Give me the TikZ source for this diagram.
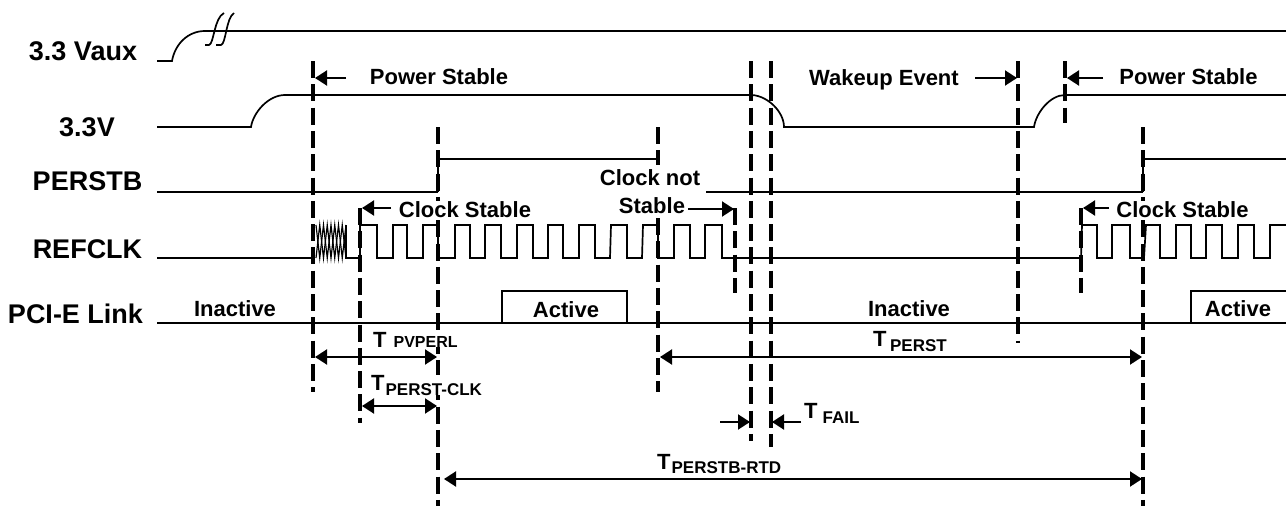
\documentclass[tikz,border=0pt]{standalone}
\usepackage{fontspec}
\setmainfont{Liberation Sans}
\usetikzlibrary{arrows.meta}
\newcommand{\fs}[1]{\fontsize{#1}{#1}\selectfont}
\newcommand{\TT}[4][17]{{\fs{22}T\kern#2pt\raisebox{#3pt}{\fs{#1}#4}}}
\tikzset{
  sig/.style={line width=1.7pt,black,line join=miter},
  base/.style={line width=2.1pt,black},
  dsh/.style={line width=3.4pt,black,dash pattern=on 17pt off 6.3pt},
  dim/.style={line width=2pt,black},
  tip/.style={-{Triangle[length=12pt,width=15pt]}},
  tips/.style={{Triangle[length=12pt,width=15pt]}-{Triangle[length=12pt,width=15pt]}},
  lbl/.style={inner sep=0pt,anchor=base,font=\bfseries\fs{27}},
  txt/.style={inner sep=0pt,anchor=base,font=\bfseries\fs{22}},
  txtw/.style={txt,fill=white,text depth=0pt,inner xsep=1pt},
  tl/.style={inner sep=0pt,anchor=base west,font=\bfseries,fill=white},
}
\begin{document}
\begin{tikzpicture}[x=1pt,y=-1pt]
\useasboundingbox (0,0) rectangle (1286,506);
% signal names
\node[lbl] (nvaux) at (83,60) {3.3 Vaux};
\node[lbl] (nv) at (87,136) {3.3V};
\node[lbl] (nperst) at (87.5,190) {PERSTB};
\node[lbl] (nclk) at (87.5,258) {REFCLK};
\node[lbl] (nlink) at (75.5,323) {PCI-E Link};
% 3.3 Vaux
\draw[sig] (157,61) -- (172,61) .. controls (175,44) and (188,31) .. (205,31) -- (1286,31);
\draw[sig] (205,45) -- (209,45) .. controls (214,44) and (214,18) .. (224,13);
\draw[sig] (216,45) -- (221,45) .. controls (226,44) and (226,18) .. (234,13);
% 3.3V
\draw[sig] (157,127) -- (251,127) .. controls (253,113) and (268,95) .. (285,95) -- (752,95)
  .. controls (768,96) and (784,112) .. (784,127) -- (1034,127)
  .. controls (1036,113) and (1050,95) .. (1065,95) -- (1286,95);
% PERSTB
\draw[base] (157,192) -- (438,192);
\draw[sig] (438,192) -- (438,159) -- (658,159);
\draw[base] (706,192) -- (1143,192);
\draw[sig] (1143,192) -- (1143,159) -- (1286,159);
% REFCLK
\draw[sig] (157,258) -- (313,258);
\draw[line width=1.2pt] (316,258) -- ++(3.75,-33) -- ++(3.75,33) -- ++(3.75,-33) -- ++(3.75,33) -- ++(3.75,-33) -- ++(3.75,33) -- ++(3.75,-33) -- ++(3.75,33);
\draw[line width=1.2pt] (316,225) -- ++(3.75,33) -- ++(3.75,-33) -- ++(3.75,33) -- ++(3.75,-33) -- ++(3.75,33) -- ++(3.75,-33) -- ++(3.75,33) -- ++(3.75,-33);
\draw[sig] (346,225) -- (346,258) -- (360,258) -- (360,225)
  -- (377,225) -- (377,258) -- (393,258) -- (393,225) -- (407,225) -- (407,258)
  -- (423,258) -- (423,225) -- (438,225) -- (438,258) -- (455,258) -- (455,225)
  -- (470,225) -- (470,258) -- (485,258) -- (485,225) -- (501,225) -- (501,258)
  -- (517,258) -- (517,225) -- (533,225) -- (533,258) -- (548,258) -- (548,225)
  -- (563,225) -- (563,258) -- (579,258) -- (579,225) -- (595,225) -- (595,258)
  -- (610,258) -- (611,225) -- (627,225) -- (627,258) -- (642,258) -- (643,225)
  -- (658,225) -- (658,258) -- (674,258) -- (674,225) -- (690,225) -- (690,258)
  -- (705,258) -- (705,225) -- (722,225) -- (722,258) -- (1081,258) -- (1082,225)
  -- (1097,225) -- (1097,258) -- (1112,258) -- (1112,225) -- (1130,225) -- (1130,258)
  -- (1144,258) -- (1146,225) -- (1160,225) -- (1160,258) -- (1176,258) -- (1176,225)
  -- (1191,225) -- (1191,258) -- (1206,258) -- (1206,225) -- (1222,225) -- (1222,258)
  -- (1238,258) -- (1238,225) -- (1254,225) -- (1254,258) -- (1270,258) -- (1270,225) -- (1286,225);
% PCI-E Link
\draw[base] (157,323) -- (1286,323);
\draw[sig] (502,323) -- (502,291) -- (627,291) -- (627,323);
\draw[sig] (1191,323) -- (1191,291) -- (1286,291);
% dashed timing markers
\coordinate (a1) at (313,61);  \coordinate (a2) at (313,392);
\coordinate (b1) at (360,208); \coordinate (b2) at (360,423);
\coordinate (c1) at (438,127); \coordinate (c2) at (438,506);
\coordinate (d1) at (658,127); \coordinate (d2) at (658,165);
\coordinate (l1) at (658,218); \coordinate (l2) at (658,392);
\coordinate (e1) at (735,208); \coordinate (e2) at (735,293);
\coordinate (f1) at (751,61);  \coordinate (f2) at (751,441);
\coordinate (g1) at (771,61);  \coordinate (g2) at (771,447);
\coordinate (h1) at (1018,61); \coordinate (h2) at (1018,343);
\coordinate (i1) at (1065,61); \coordinate (i2) at (1065,123);
\coordinate (j1) at (1081,208);\coordinate (j2) at (1081,293);
\coordinate (k1) at (1143,127);\coordinate (k2) at (1143,506);
\foreach \p in {a,b,c,d,l,e,f,g,h,i,j,k} \draw[dsh] (\p1) -- (\p2);
% annotations
\coordinate (ps1) at (346,78);   \coordinate (ps1t) at (315,78);
\coordinate (cs1) at (391,208);  \coordinate (cs1t) at (362,208);
\coordinate (cn)  at (688,209);  \coordinate (cnt)  at (734,209);
\coordinate (we)  at (975,78);   \coordinate (wet)  at (1017,78);
\coordinate (ps2) at (1103,78);  \coordinate (ps2t) at (1067,78);
\coordinate (cs2) at (1109,208); \coordinate (cs2t) at (1083,208);
\node[txt] (tps1) at (439,84) {Power Stable};
\node[txtw] (tcs1) at (465,217) {Clock Stable};
\node[txtw] (tcn1) at (650,185) {Clock not};
\node[txtw] (tcn2) at (652,213) {Stable};
\node[txt] (twe)  at (884,85) {Wakeup Event};
\node[txt] (tps2) at (1188.5,84) {Power Stable};
\node[txtw] (tcs2) at (1182.5,217) {Clock Stable};
\node[txt] (tin1) at (235,316) {Inactive};
\node[txt] (tac1) at (566,317) {Active};
\node[txt] (tin2) at (909,316) {Inactive};
\node[txt] (tac2) at (1238,316) {Active};
\draw[dim,tip] (ps1) -- (ps1t);
\draw[dim,tip] (cs1) -- (cs1t);
\draw[dim,tip] (cn) -- (cnt);
\draw[dim,tip] (we) -- (wet);
\draw[dim,tip] (ps2) -- (ps2t);
\draw[dim,tip] (cs2) -- (cs2t);
% dimension lines
\coordinate (v1) at (315,357);  \coordinate (v2) at (437,357);
\coordinate (w1) at (362,406);  \coordinate (w2) at (437,406);
\coordinate (x1) at (660,357);  \coordinate (x2) at (1142,357);
\coordinate (y1) at (444,479);  \coordinate (y2) at (1142,479);
\coordinate (z1) at (720,422);  \coordinate (z2) at (750,422);
\coordinate (u1) at (801,422);  \coordinate (u2) at (772,422);
\draw[dim,tips] (v1) -- (v2);
\draw[dim,tips] (w1) -- (w2);
\draw[dim,tips] (x1) -- (x2);
\draw[dim,tips] (y1) -- (y2);
\draw[dim,tip] (z1) -- (z2);
\draw[dim,tip] (u1) -- (u2);
\node[tl] (tpv) at (373,347) {\TT[16]{7}{0}{PVPERL}};
\node[tl] (tpc) at (371,390) {\TT{1}{-5}{PERST-CLK}};
\node[tl] (tpr) at (873,346) {\TT{3.5}{-5}{PERST}};
\node[tl] (tfa) at (804,418) {\TT{5}{-5}{FAIL}};
\node[tl] (trt) at (657,469) {\TT{1}{-4}{PERSTB-RTD}};
\end{tikzpicture}
\end{document}
